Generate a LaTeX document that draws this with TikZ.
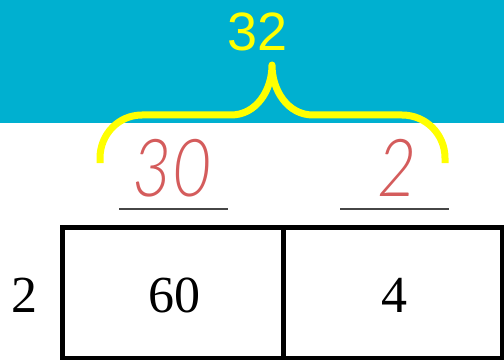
\documentclass[tikz,border=0pt]{standalone}
\usepackage{fontspec}
\setmainfont{Liberation Serif}
\newfontfamily\arialfont{Liberation Sans}
\newfontfamily\handfont{Lato}[ItalicFont={* Light Italic}]
\definecolor{teal1}{RGB}{0,176,208}
\definecolor{brace}{RGB}{255,255,0}
\definecolor{hand}{RGB}{212,92,92}
\definecolor{uline}{RGB}{70,70,70}
\begin{document}
\begin{tikzpicture}[x=1pt,y=-1pt,
  bigsans/.style={font=\arialfont\fontsize{54}{60}\selectfont, text=brace, inner sep=0pt},
  handnum/.style={font=\handfont\itshape\fontsize{80}{90}\selectfont, text=hand, inner sep=0pt, xscale=0.85},
  cellnum/.style={font=\fontsize{52}{58}\selectfont, inner sep=0pt},
  cellline/.style={line width=4.5pt, black},
  ulinestyle/.style={line width=2.5pt, uline}]
\useasboundingbox (0,0) rectangle (504,361);
\fill[teal1] (0,0) rectangle (504,123);
\node[bigsans] (total) at (258,32) {32};
% brace
\coordinate (bl) at (100,163);
\coordinate (br) at (445,163);
\coordinate (peak) at (272,65);
\draw[brace, line width=7pt, line join=round, line cap=butt]
  (bl) -- (100,158) to[out=90,in=180] (142,115) -- (231,115)
  to[out=0,in=-90] (peak) to[out=-90,in=180] (313,115) -- (402,115)
  to[out=0,in=90] (445,158) -- (br);
% handwritten numbers
\node[handnum] (h30) at (172,168) {30};
\node[handnum] (h2) at (397,168) {2};
\coordinate (u1a) at (119,209); \coordinate (u1b) at (228,209);
\coordinate (u2a) at (340,209); \coordinate (u2b) at (449,209);
\draw[ulinestyle] (u1a) -- (u1b);
\draw[ulinestyle] (u2a) -- (u2b);
% table
\coordinate (tl) at (62.5,227.5);
\coordinate (brc) at (502,358);
\draw[cellline] (tl) rectangle (brc);
\coordinate (dt) at (283.5,227.5);
\coordinate (db) at (283.5,358);
\draw[cellline] (dt) -- (db);
\node[cellnum] (side) at (24,295) {2};
\node[cellnum] (c1) at (174,295) {60};
\node[cellnum] (c2) at (394,295) {4};
\end{tikzpicture}
\end{document}
